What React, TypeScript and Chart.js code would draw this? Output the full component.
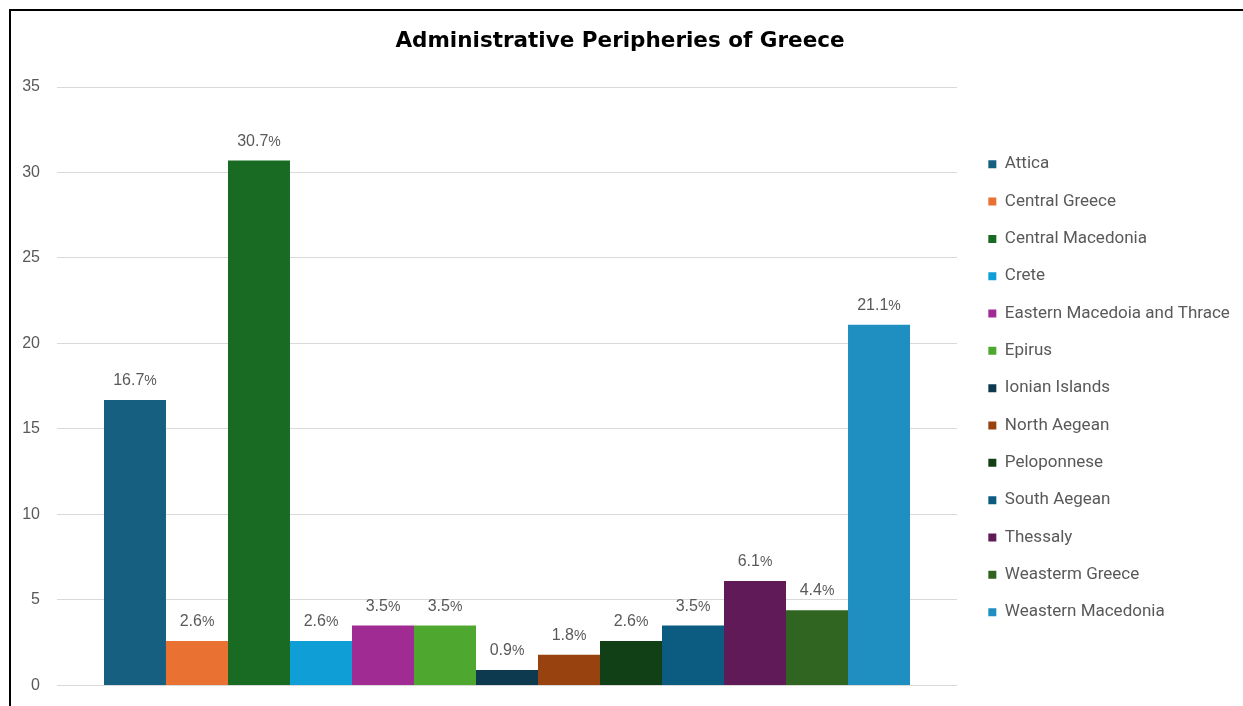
import React, { useEffect, useRef } from "react";
import { Chart, registerables } from "chart.js";

Chart.register(...registerables);

const TITLE = "Administrative Peripheries of Greece";
const CATEGORIES = [""];
const REGIONS = [
  "Attica",
  "Central Greece",
  "Central Macedonia",
  "Crete",
  "Eastern Macedoia and Thrace",
  "Epirus",
  "Ionian Islands",
  "North Aegean",
  "Peloponnese",
  "South Aegean",
  "Thessaly",
  "Weasterm Greece",
  "Weastern Macedonia",
];
const SHARES = [16.7, 2.6, 30.7, 2.6, 3.5, 3.5, 0.9, 1.8, 2.6, 3.5, 6.1, 4.4, 21.1];
const COLORS = [
  "#175F81",
  "#E97132",
  "#196B24",
  "#0F9ED5",
  "#A02B93",
  "#4EA72E",
  "#0E3A50",
  "#98420F",
  "#113F16",
  "#0B5C80",
  "#5F1A57",
  "#2F6520",
  "#1F8FC2",
];
const Y_MIN = 0;
const Y_MAX = 35;
const Y_STEP = 5;

const LEGEND_SHIFT_X = 11;
const LEGEND_SHIFT_Y = 2;
const TITLE_SHIFT = 30;

const shiftBoxes = {
  id: "shiftBoxes",
  afterLayout(chart: any) {
    const lg = chart.legend;
    if (lg) {
      lg.left += LEGEND_SHIFT_X;
      lg.right = lg.left + 290;
      lg.top += LEGEND_SHIFT_Y;
      lg.bottom += LEGEND_SHIFT_Y;
    }
    const tt = chart.titleBlock;
    if (tt) {
      tt.left += TITLE_SHIFT;
      tt.right += TITLE_SHIFT;
    }
  },
};

const valueLabels = {
  id: "valueLabels",
  afterDatasetsDraw(chart: any) {
    const ctx = chart.ctx;
    ctx.save();
    ctx.fillStyle = "#595959";
    ctx.textAlign = "left";
    ctx.textBaseline = "alphabetic";
    chart.data.datasets.forEach((ds: any, i: number) => {
      const meta = chart.getDatasetMeta(i);
      meta.data.forEach((bar: any, j: number) => {
        const v = ds.data[j] as number;
        const num = v.toFixed(1);
        ctx.font = "16px 'Liberation Sans', Arial, sans-serif";
        const w1 = ctx.measureText(num).width;
        ctx.font = "14px 'Liberation Sans', Arial, sans-serif";
        const w2 = ctx.measureText("%").width;
        const x0 = bar.x - (w1 + w2) / 2;
        const yb = bar.y - 15;
        ctx.font = "16px 'Liberation Sans', Arial, sans-serif";
        ctx.fillText(num, x0, yb);
        ctx.font = "14px 'Liberation Sans', Arial, sans-serif";
        ctx.fillText("%", x0 + w1, yb);
      });
    });
    ctx.restore();
  },
};

export default function App() {
  const ref = useRef<HTMLCanvasElement | null>(null);

  useEffect(() => {
    if (!ref.current) return;
    const chart = new Chart(ref.current, {
      type: "bar",
      data: {
        labels: CATEGORIES,
        datasets: REGIONS.map((name, i) => ({
          label: name,
          data: [SHARES[i]],
          backgroundColor: COLORS[i],
          borderWidth: 0,
        })),
      },
      options: {
        animation: false,
        responsive: false,
        devicePixelRatio: 1,
        layout: { padding: { left: 12, right: 86, top: 0, bottom: 0 } },
        datasets: {
          bar: { categoryPercentage: 0.8956, barPercentage: 1 },
        },
        scales: {
          x: { display: false },
          y: {
            min: Y_MIN,
            max: Y_MAX,
            afterFit: (scale: any) => {
              scale.width = 34;
            },
            ticks: {
              stepSize: Y_STEP,
              padding: 17,
              color: "#595959",
              font: { family: "'Liberation Sans', Arial, sans-serif", size: 16 },
            },
            grid: { color: "#D9D9D9", lineWidth: 1, drawTicks: false },
            border: { display: false },
          },
        },
        plugins: {
          title: {
            display: true,
            text: TITLE,
            color: "#000000",
            font: { family: "'DejaVu Sans', sans-serif", size: 21.5, weight: "bold", lineHeight: 1.2 },
            padding: { top: 18, bottom: 32.2 },
          },
          legend: {
            position: "right",
            align: "center",
            fullSize: false,
            maxWidth: 200,
            labels: {
              boxWidth: 8,
              boxHeight: 8,
              padding: 20.33,
              color: "#595959",
              font: { family: "Roboto, sans-serif", size: 17 },
            },
          },
          tooltip: { enabled: false },
        },
      },
      plugins: [shiftBoxes, valueLabels],
    });
    return () => chart.destroy();
  }, []);

  return (
    <div
      style={{
        position: "fixed",
        left: 0,
        top: 0,
        width: 1243,
        height: 706,
        overflow: "hidden",
        background: "#ffffff",
      }}
    >
      <div
        style={{
          position: "absolute",
          left: 9,
          top: 9,
          width: 1240,
          height: 710,
          borderLeft: "2px solid #000",
          borderTop: "2px solid #000",
        }}
      >
        <canvas
          ref={ref}
          width={1232}
          height={701}
          style={{ position: "absolute", left: 0, top: 0, width: 1232, height: 701 }}
        />
      </div>
    </div>
  );
}
